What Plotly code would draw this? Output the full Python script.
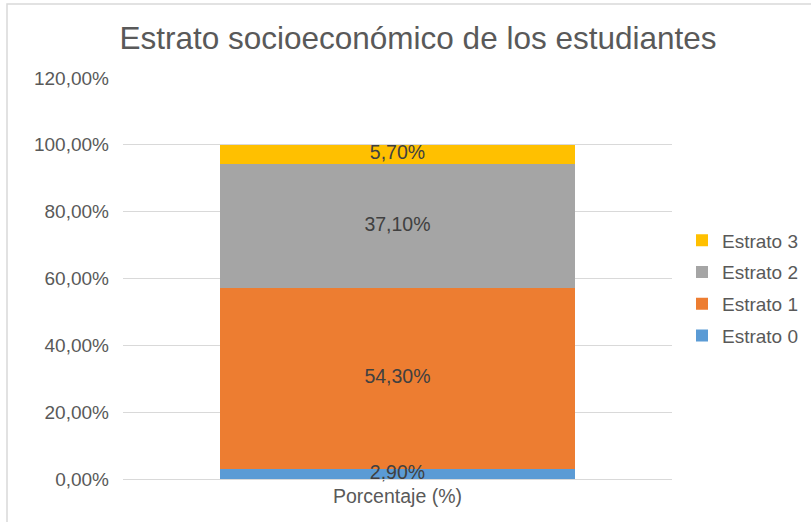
import plotly.graph_objects as go

categories = ["Porcentaje (%)"]
series_names = ["Estrato 0", "Estrato 1", "Estrato 2", "Estrato 3"]
series_values = [[0.029], [0.543], [0.371], [0.057]]
colors = ["#5B9BD5", "#ED7D31", "#A5A5A5", "#FFC000"]
legend_ranks = [4, 3, 2, 1]
tick_vals = [0, 0.2, 0.4, 0.6, 0.8, 1.0, 1.2]

FONT = "Liberation Sans"
fig = go.Figure()
for name, vals, col, rk in zip(series_names, series_values, colors, legend_ranks):
    fig.add_trace(go.Bar(
        x=categories, y=vals, name=name, marker_color=col,
        marker_line_width=0, hoverinfo="skip",
        legendgroup=name, legendrank=rk,
    ))

# data labels drawn above all bars (centred on each stacked segment)
label_y, label_v, base = [], [], 0.0
for vals in series_values:
    label_y.append(base + vals[0] / 2)
    label_v.append(vals[0])
    base += vals[0]
fig.add_trace(go.Scatter(
    x=categories * len(label_y), y=label_y, customdata=label_v,
    mode="text", texttemplate="%{customdata:.2%}", textposition="middle center",
    textfont=dict(color="#404040", size=19.5, family=FONT),
    showlegend=False, hoverinfo="skip", cliponaxis=False,
))

L, R, T, B = 123, 139, 78, 43
W, H = 811, 522
pw, ph = W - L - R, H - T - B

fig.update_layout(
    width=W, height=H, barmode="stack", bargap=0.353,
    separators=",.",
    margin=dict(l=L, r=R, t=T, b=B, autoexpand=False),
    paper_bgcolor="white", plot_bgcolor="white",
    font=dict(family=FONT, color="#595959", size=18),
    title=dict(text="Estrato socioeconómico de los estudiantes",
               x=418 / W, xanchor="center", y=1 - 38 / H, yanchor="middle",
               font=dict(size=31.5, color="#595959", family=FONT)),
    legend=dict(x=(682 - L) / pw, xanchor="left", y=(479 - 288) / ph, yanchor="middle",
                traceorder="grouped", tracegroupgap=4,
                font=dict(size=19, color="#595959", family=FONT)),
    showlegend=True,
)
fig.update_yaxes(range=[0, 1.2], tickvals=tick_vals, tickformat=".2%",
                 showgrid=True, gridcolor="#D9D9D9", gridwidth=1,
                 zeroline=False, showline=False, ticks="", ticklen=0,
                 ticklabelstandoff=13,
                 tickfont=dict(size=19, color="#595959", family=FONT))
fig.update_xaxes(showline=True, linecolor="#D9D9D9", ticks="",
                 tickfont=dict(size=19.5, color="#595959", family=FONT))

fig.add_shape(type="rect", xref="paper", yref="paper",
              x0=(7 - L) / pw, x1=(W + 20 - L) / pw,
              y0=(479 - (H + 20)) / ph, y1=(479 - 4) / ph,
              line=dict(color="#D9D9D9", width=1.5), fillcolor="rgba(0,0,0,0)", layer="below")

fig.write_html("out.html", config={"displayModeBar": False},
               post_script="document.body.style.margin='0';document.body.style.overflow='hidden';")
